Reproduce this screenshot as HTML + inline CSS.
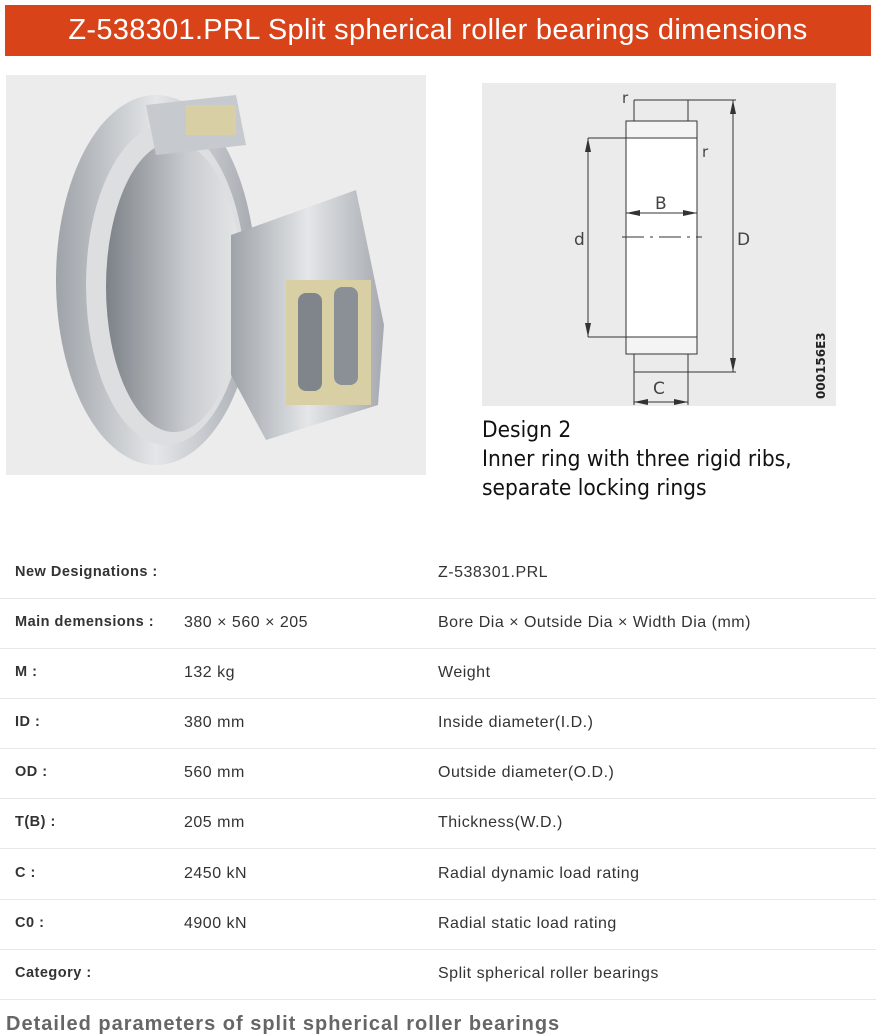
<!DOCTYPE html>
<html><head><meta charset="utf-8"><style>
body{margin:0;width:876px;height:1021px;overflow:hidden;background:#fff;font-family:"Liberation Sans",sans-serif;position:relative}
.hd{position:absolute;left:5px;top:5px;width:866px;height:51px;background:#d9431a;color:#fff;font-size:29px;text-align:center;line-height:51px;letter-spacing:0.3px}
.row{position:absolute;left:0;width:876px;height:50px;border-bottom:1px solid #e8e8e8;font-size:16px;color:#333;letter-spacing:0.5px}
.row span{position:absolute;top:16px}
.a{left:15px;font-weight:bold;font-size:14.5px;letter-spacing:0.5px}.b{left:184px}.c{left:438px}
.cap{position:absolute;left:482px;top:416px;font-size:22.5px;line-height:29px;color:#111;font-family:"DejaVu Sans Condensed","DejaVu Sans",sans-serif}
.tail{position:absolute;left:6px;top:1013px;font-size:20px;color:#666;font-weight:bold;letter-spacing:1px}
</style></head><body>
<div class="hd">Z-538301.PRL Split spherical roller bearings dimensions</div>
<svg style="position:absolute;left:6px;top:75px" width="420" height="400">
<defs>
<linearGradient id="g1" x1="0" x2="1"><stop offset="0" stop-color="#9ea3a9"/><stop offset=".5" stop-color="#e4e6e8"/><stop offset="1" stop-color="#a6aab0"/></linearGradient>
<linearGradient id="g2" x1="0" x2="1"><stop offset="0" stop-color="#7d8288"/><stop offset=".6" stop-color="#c9ccd0"/><stop offset="1" stop-color="#e6e7e8"/></linearGradient>
</defs>
<rect width="420" height="400" fill="#ececec"/>
<ellipse cx="150" cy="205" rx="100" ry="185" fill="url(#g1)"/>
<ellipse cx="160" cy="210" rx="80" ry="160" fill="#dcdee0"/>
<ellipse cx="168" cy="212" rx="68" ry="145" fill="url(#g2)"/>
<path d="M225 160 L350 115 L378 250 L372 330 L260 365 L225 300Z" fill="url(#g1)"/>
<rect x="280" y="205" width="85" height="125" fill="#d8cfa5"/>
<rect x="292" y="218" width="24" height="98" rx="8" fill="#80858b"/>
<rect x="328" y="212" width="24" height="98" rx="8" fill="#8b9096"/>
<path d="M140 30 L230 20 L240 70 L150 80Z" fill="#c6c9cd"/>
<rect x="180" y="30" width="50" height="30" fill="#d8cfa5"/>
</svg>
<svg style="position:absolute;left:482px;top:83px" width="354" height="323" font-family="DejaVu Sans,sans-serif">
<rect width="354" height="323" fill="#ebebeb"/>
<g stroke="#333" fill="none" stroke-width="1">
<rect x="144" y="55" width="71" height="199" fill="#fff"/>
<rect x="144" y="38" width="71" height="17" fill="#f4f4f4"/>
<rect x="144" y="254" width="71" height="17" fill="#f4f4f4"/>
<line x1="152" y1="17" x2="254" y2="17"/><line x1="152" y1="289" x2="254" y2="289"/>
<line x1="152" y1="17" x2="152" y2="38"/><line x1="206" y1="17" x2="206" y2="38"/>
<line x1="152" y1="271" x2="152" y2="322"/><line x1="206" y1="271" x2="206" y2="322"/>
<line x1="251" y1="17" x2="251" y2="289"/>
<line x1="106" y1="55" x2="144" y2="55"/><line x1="106" y1="254" x2="144" y2="254"/>
<line x1="106" y1="55" x2="106" y2="254"/>
<line x1="144" y1="130" x2="215" y2="130"/>
<line x1="140" y1="154" x2="220" y2="154" stroke-dasharray="22 6 3 6"/>
<line x1="152" y1="319" x2="206" y2="319"/>
</g>
<g fill="#333">
<path d="M106 55l-3 14h6z"/><path d="M106 254l-3-14h6z"/>
<path d="M251 17l-3 14h6z"/><path d="M251 289l-3-14h6z"/>
<path d="M144 130l14-3v6z"/><path d="M215 130l-14-3v6z"/>
<path d="M152 319l14-3v6z"/><path d="M206 319l-14-3v6z"/>
</g>
<g font-size="17" fill="#444">
<text x="173" y="126">B</text><text x="92" y="162">d</text><text x="255" y="162">D</text>
<text x="171" y="311">C</text><text x="140" y="20" font-size="15">r</text><text x="220" y="74" font-size="15">r</text>
</g>
<text transform="translate(343,316) rotate(-90)" font-size="12" font-weight="bold" fill="#222">000156E3</text>
</svg>
<div class="cap">Design 2<br>Inner ring with three rigid ribs,<br>separate locking rings</div>
<div class="row" style="top:548px"><span class="a">New Designations :</span><span class="c">Z-538301.PRL</span></div>
<div class="row" style="top:598px"><span class="a">Main demensions :</span><span class="b">380 × 560 × 205</span><span class="c">Bore Dia × Outside Dia × Width Dia (mm)</span></div>
<div class="row" style="top:648px"><span class="a">M :</span><span class="b">132 kg</span><span class="c">Weight</span></div>
<div class="row" style="top:698px"><span class="a">ID :</span><span class="b">380 mm</span><span class="c">Inside diameter(I.D.)</span></div>
<div class="row" style="top:748px"><span class="a">OD :</span><span class="b">560 mm</span><span class="c">Outside diameter(O.D.)</span></div>
<div class="row" style="top:798px"><span class="a">T(B) :</span><span class="b">205 mm</span><span class="c">Thickness(W.D.)</span></div>
<div class="row" style="top:849px"><span class="a">C :</span><span class="b">2450 kN</span><span class="c">Radial dynamic load rating</span></div>
<div class="row" style="top:899px"><span class="a">C0 :</span><span class="b">4900 kN</span><span class="c">Radial static load rating</span></div>
<div class="row" style="top:949px"><span class="a">Category :</span><span class="c">Split spherical roller bearings</span></div>
<div class="tail">Detailed parameters of split spherical roller bearings</div>
</body></html>
